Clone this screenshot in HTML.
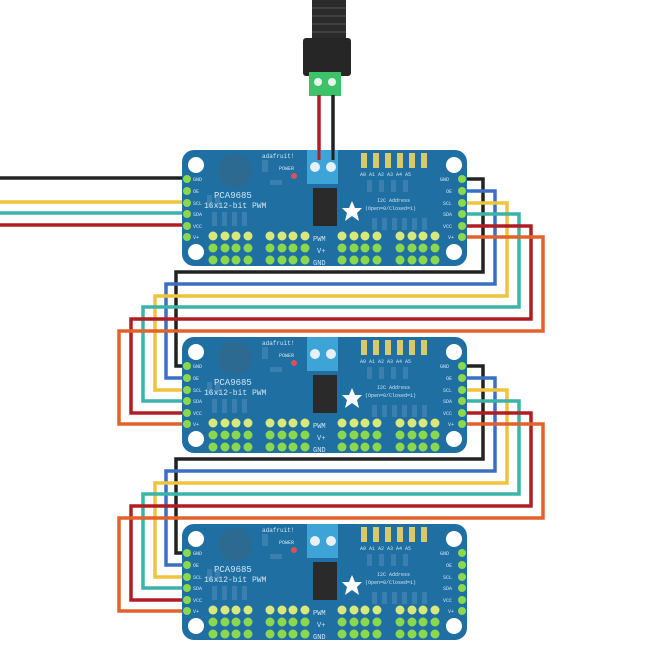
<!DOCTYPE html>
<html><head><meta charset="utf-8"><style>
html,body{margin:0;padding:0;background:#fff;width:658px;height:652px;overflow:hidden}
svg{display:block}
text{font-family:"Liberation Mono",monospace;fill:#cfe6f2}
</style></head><body>
<svg width="658" height="652" viewBox="0 0 658 652" xmlns="http://www.w3.org/2000/svg">
<defs>
<g id="pinrow">
<circle cx="0" cy="0" r="4.5" fill="#d9e87a"/><circle cx="12" cy="0" r="4.5" fill="#d9e87a"/><circle cx="23" cy="0" r="4.5" fill="#d9e87a"/><circle cx="35" cy="0" r="4.5" fill="#d9e87a"/>
<circle cx="0" cy="12" r="4.5" fill="#8bd84e"/><circle cx="12" cy="12" r="4.5" fill="#8bd84e"/><circle cx="23" cy="12" r="4.5" fill="#8bd84e"/><circle cx="35" cy="12" r="4.5" fill="#8bd84e"/>
<circle cx="0" cy="24" r="4.5" fill="#8bd84e"/><circle cx="12" cy="24" r="4.5" fill="#8bd84e"/><circle cx="23" cy="24" r="4.5" fill="#8bd84e"/><circle cx="35" cy="24" r="4.5" fill="#8bd84e"/>
</g>
</defs>

<!-- power jack -->
<path d="M312 0 L346 0 L346 40 L312 40 Z" fill="#2b2b2b"/>
<g stroke="#555" stroke-width="1"><line x1="312" y1="8" x2="346" y2="8"/><line x1="312" y1="16" x2="346" y2="16"/><line x1="312" y1="24" x2="346" y2="24"/><line x1="312" y1="32" x2="346" y2="32"/></g>
<rect x="303" y="38" width="48" height="38" rx="3" fill="#262626"/>
<rect x="309" y="72" width="32" height="24" fill="#3cc36a"/>
<circle cx="318" cy="82" r="4" fill="#e8f5ea"/><circle cx="332" cy="82" r="4" fill="#e8f5ea"/>
<line x1="319" y1="95" x2="319" y2="160" stroke="#b01e24" stroke-width="3.5"/>
<line x1="333" y1="95" x2="333" y2="160" stroke="#222" stroke-width="3.5"/>

<!-- input wires -->
<g fill="none" stroke-width="3.5">
<line x1="0" y1="178" x2="187" y2="178" stroke="#222"/>
<line x1="0" y1="202" x2="187" y2="202" stroke="#f0c43a"/>
<line x1="0" y1="213" x2="187" y2="213" stroke="#3bb3a8"/>
<line x1="0" y1="225" x2="187" y2="225" stroke="#b01e24"/>
</g>

<!-- chain wires board1->2 and 2->3 -->
<g fill="none" stroke-width="3.5" stroke-linejoin="miter">
<path d="M462 179 H483 V272 H176 V366 H187" stroke="#222"/>
<path d="M462 191 H495 V284 H166 V378 H187" stroke="#3a6fc4"/>
<path d="M462 203 H507 V296 H155 V390 H187" stroke="#f0c43a"/>
<path d="M462 214 H519 V307 H143 V401 H187" stroke="#3bb3a8"/>
<path d="M462 226 H531 V319 H131 V413 H187" stroke="#b01e24"/>
<path d="M462 237 H543 V331 H119 V424 H187" stroke="#e2622a"/>

<path d="M462 366 H483 V459 H176 V553 H187" stroke="#222"/>
<path d="M462 378 H495 V471 H166 V565 H187" stroke="#3a6fc4"/>
<path d="M462 390 H507 V483 H155 V577 H187" stroke="#f0c43a"/>
<path d="M462 401 H519 V494 H143 V588 H187" stroke="#3bb3a8"/>
<path d="M462 413 H531 V506 H131 V600 H187" stroke="#b01e24"/>
<path d="M462 424 H543 V518 H119 V611 H187" stroke="#e2622a"/>
</g>

<!-- BOARD 1 -->
<g transform="translate(182,150)">
<rect x="0" y="0" width="285" height="116" rx="12" fill="#1f6fa3"/>
<circle cx="14" cy="15" r="8" fill="#fff"/><circle cx="272" cy="15" r="8" fill="#fff"/><circle cx="14" cy="102" r="8" fill="#fff"/><circle cx="272" cy="102" r="8" fill="#fff"/>
<circle cx="53" cy="21" r="17" fill="#2c6a92"/>
<g fill="#3a7fae"><rect x="25" y="45" width="5" height="12"/><rect x="33" y="45" width="5" height="12"/><rect x="30" y="62" width="5" height="14"/><rect x="40" y="62" width="5" height="14"/><rect x="50" y="62" width="5" height="14"/><rect x="60" y="62" width="5" height="14"/><rect x="80" y="10" width="6" height="12"/><rect x="88" y="30" width="12" height="5"/><rect x="190" y="68" width="5" height="12"/><rect x="200" y="68" width="5" height="12"/><rect x="210" y="68" width="5" height="12"/><rect x="220" y="68" width="5" height="12"/><rect x="230" y="68" width="5" height="12"/><rect x="240" y="68" width="5" height="12"/><rect x="185" y="30" width="5" height="12"/><rect x="197" y="30" width="5" height="12"/><rect x="209" y="30" width="5" height="12"/><rect x="221" y="30" width="5" height="12"/></g>
<rect x="125" y="0" width="31" height="34" fill="#3ea3d6"/>
<circle cx="133" cy="17" r="5" fill="#e6f0f5"/><circle cx="149" cy="17" r="5" fill="#e6f0f5"/>
<rect x="131" y="38" width="24" height="38" fill="#2a2a2a"/>
<polygon points="170,51 173,58 180,58 175,63 177,71 170,66 163,71 165,63 160,58 167,58" fill="#fff"/>
<g fill="#d9c96a"><rect x="179" y="3" width="6" height="15"/><rect x="191" y="3" width="6" height="15"/><rect x="203" y="3" width="6" height="15"/><rect x="215" y="3" width="6" height="15"/><rect x="227" y="3" width="6" height="15"/><rect x="239" y="3" width="6" height="15"/></g>
<circle cx="112" cy="26" r="3" fill="#e05050"/>
<text x="80" y="8" font-size="6">adafruit!</text>
<text x="97" y="20" font-size="5">POWER</text>
<text x="178" y="26" font-size="5">A0 A1 A2 A3 A4 A5</text>
<text x="32" y="48" font-size="9">PCA9685</text>
<text x="22" y="58" font-size="8">16x12-bit PWM</text>
<text x="195" y="52" font-size="5">I2C Address</text>
<text x="183" y="60" font-size="5">(Open=0/Closed=1)</text>
<g font-size="5"><text x="11" y="31">GND</text><text x="11" y="43">OE</text><text x="11" y="55">SCL</text><text x="11" y="66">SDA</text><text x="11" y="78">VCC</text><text x="11" y="89">V+</text>
<text x="258" y="31">GND</text><text x="264" y="43">OE</text><text x="261" y="55">SCL</text><text x="261" y="66">SDA</text><text x="261" y="78">VCC</text><text x="266" y="89">V+</text></g>
<g font-size="7"><text x="131" y="91">PWM</text><text x="135" y="103">V+</text><text x="131" y="115">GND</text></g>
<use href="#pinrow" x="31" y="86"/><use href="#pinrow" x="88" y="86"/><use href="#pinrow" x="160" y="86"/><use href="#pinrow" x="218" y="86"/>
<g fill="#8bd84e"><circle cx="5" cy="29" r="4"/><circle cx="5" cy="41" r="4"/><circle cx="5" cy="53" r="4"/><circle cx="5" cy="64" r="4"/><circle cx="5" cy="76" r="4"/><circle cx="5" cy="87" r="4"/>
<circle cx="280" cy="29" r="4"/><circle cx="280" cy="41" r="4"/><circle cx="280" cy="53" r="4"/><circle cx="280" cy="64" r="4"/><circle cx="280" cy="76" r="4"/><circle cx="280" cy="87" r="4"/></g>
</g>

<!-- BOARD 2 -->
<g transform="translate(182,337)">
<rect x="0" y="0" width="285" height="116" rx="12" fill="#1f6fa3"/>
<circle cx="14" cy="15" r="8" fill="#fff"/><circle cx="272" cy="15" r="8" fill="#fff"/><circle cx="14" cy="102" r="8" fill="#fff"/><circle cx="272" cy="102" r="8" fill="#fff"/>
<circle cx="53" cy="21" r="17" fill="#2c6a92"/>
<g fill="#3a7fae"><rect x="25" y="45" width="5" height="12"/><rect x="33" y="45" width="5" height="12"/><rect x="30" y="62" width="5" height="14"/><rect x="40" y="62" width="5" height="14"/><rect x="50" y="62" width="5" height="14"/><rect x="60" y="62" width="5" height="14"/><rect x="80" y="10" width="6" height="12"/><rect x="88" y="30" width="12" height="5"/><rect x="190" y="68" width="5" height="12"/><rect x="200" y="68" width="5" height="12"/><rect x="210" y="68" width="5" height="12"/><rect x="220" y="68" width="5" height="12"/><rect x="230" y="68" width="5" height="12"/><rect x="240" y="68" width="5" height="12"/><rect x="185" y="30" width="5" height="12"/><rect x="197" y="30" width="5" height="12"/><rect x="209" y="30" width="5" height="12"/><rect x="221" y="30" width="5" height="12"/></g>
<rect x="125" y="0" width="31" height="34" fill="#3ea3d6"/>
<circle cx="133" cy="17" r="5" fill="#e6f0f5"/><circle cx="149" cy="17" r="5" fill="#e6f0f5"/>
<rect x="131" y="38" width="24" height="38" fill="#2a2a2a"/>
<polygon points="170,51 173,58 180,58 175,63 177,71 170,66 163,71 165,63 160,58 167,58" fill="#fff"/>
<g fill="#d9c96a"><rect x="179" y="3" width="6" height="15"/><rect x="191" y="3" width="6" height="15"/><rect x="203" y="3" width="6" height="15"/><rect x="215" y="3" width="6" height="15"/><rect x="227" y="3" width="6" height="15"/><rect x="239" y="3" width="6" height="15"/></g>
<circle cx="112" cy="26" r="3" fill="#e05050"/>
<text x="80" y="8" font-size="6">adafruit!</text>
<text x="97" y="20" font-size="5">POWER</text>
<text x="178" y="26" font-size="5">A0 A1 A2 A3 A4 A5</text>
<text x="32" y="48" font-size="9">PCA9685</text>
<text x="22" y="58" font-size="8">16x12-bit PWM</text>
<text x="195" y="52" font-size="5">I2C Address</text>
<text x="183" y="60" font-size="5">(Open=0/Closed=1)</text>
<g font-size="5"><text x="11" y="31">GND</text><text x="11" y="43">OE</text><text x="11" y="55">SCL</text><text x="11" y="66">SDA</text><text x="11" y="78">VCC</text><text x="11" y="89">V+</text>
<text x="258" y="31">GND</text><text x="264" y="43">OE</text><text x="261" y="55">SCL</text><text x="261" y="66">SDA</text><text x="261" y="78">VCC</text><text x="266" y="89">V+</text></g>
<g font-size="7"><text x="131" y="91">PWM</text><text x="135" y="103">V+</text><text x="131" y="115">GND</text></g>
<use href="#pinrow" x="31" y="86"/><use href="#pinrow" x="88" y="86"/><use href="#pinrow" x="160" y="86"/><use href="#pinrow" x="218" y="86"/>
<g fill="#8bd84e"><circle cx="5" cy="29" r="4"/><circle cx="5" cy="41" r="4"/><circle cx="5" cy="53" r="4"/><circle cx="5" cy="64" r="4"/><circle cx="5" cy="76" r="4"/><circle cx="5" cy="87" r="4"/>
<circle cx="280" cy="29" r="4"/><circle cx="280" cy="41" r="4"/><circle cx="280" cy="53" r="4"/><circle cx="280" cy="64" r="4"/><circle cx="280" cy="76" r="4"/><circle cx="280" cy="87" r="4"/></g>
</g>

<!-- BOARD 3 -->
<g transform="translate(182,524)">
<rect x="0" y="0" width="285" height="116" rx="12" fill="#1f6fa3"/>
<circle cx="14" cy="15" r="8" fill="#fff"/><circle cx="272" cy="15" r="8" fill="#fff"/><circle cx="14" cy="102" r="8" fill="#fff"/><circle cx="272" cy="102" r="8" fill="#fff"/>
<circle cx="53" cy="21" r="17" fill="#2c6a92"/>
<g fill="#3a7fae"><rect x="25" y="45" width="5" height="12"/><rect x="33" y="45" width="5" height="12"/><rect x="30" y="62" width="5" height="14"/><rect x="40" y="62" width="5" height="14"/><rect x="50" y="62" width="5" height="14"/><rect x="60" y="62" width="5" height="14"/><rect x="80" y="10" width="6" height="12"/><rect x="88" y="30" width="12" height="5"/><rect x="190" y="68" width="5" height="12"/><rect x="200" y="68" width="5" height="12"/><rect x="210" y="68" width="5" height="12"/><rect x="220" y="68" width="5" height="12"/><rect x="230" y="68" width="5" height="12"/><rect x="240" y="68" width="5" height="12"/><rect x="185" y="30" width="5" height="12"/><rect x="197" y="30" width="5" height="12"/><rect x="209" y="30" width="5" height="12"/><rect x="221" y="30" width="5" height="12"/></g>
<rect x="125" y="0" width="31" height="34" fill="#3ea3d6"/>
<circle cx="133" cy="17" r="5" fill="#e6f0f5"/><circle cx="149" cy="17" r="5" fill="#e6f0f5"/>
<rect x="131" y="38" width="24" height="38" fill="#2a2a2a"/>
<polygon points="170,51 173,58 180,58 175,63 177,71 170,66 163,71 165,63 160,58 167,58" fill="#fff"/>
<g fill="#d9c96a"><rect x="179" y="3" width="6" height="15"/><rect x="191" y="3" width="6" height="15"/><rect x="203" y="3" width="6" height="15"/><rect x="215" y="3" width="6" height="15"/><rect x="227" y="3" width="6" height="15"/><rect x="239" y="3" width="6" height="15"/></g>
<circle cx="112" cy="26" r="3" fill="#e05050"/>
<text x="80" y="8" font-size="6">adafruit!</text>
<text x="97" y="20" font-size="5">POWER</text>
<text x="178" y="26" font-size="5">A0 A1 A2 A3 A4 A5</text>
<text x="32" y="48" font-size="9">PCA9685</text>
<text x="22" y="58" font-size="8">16x12-bit PWM</text>
<text x="195" y="52" font-size="5">I2C Address</text>
<text x="183" y="60" font-size="5">(Open=0/Closed=1)</text>
<g font-size="5"><text x="11" y="31">GND</text><text x="11" y="43">OE</text><text x="11" y="55">SCL</text><text x="11" y="66">SDA</text><text x="11" y="78">VCC</text><text x="11" y="89">V+</text>
<text x="258" y="31">GND</text><text x="264" y="43">OE</text><text x="261" y="55">SCL</text><text x="261" y="66">SDA</text><text x="261" y="78">VCC</text><text x="266" y="89">V+</text></g>
<g font-size="7"><text x="131" y="91">PWM</text><text x="135" y="103">V+</text><text x="131" y="115">GND</text></g>
<use href="#pinrow" x="31" y="86"/><use href="#pinrow" x="88" y="86"/><use href="#pinrow" x="160" y="86"/><use href="#pinrow" x="218" y="86"/>
<g fill="#8bd84e"><circle cx="5" cy="29" r="4"/><circle cx="5" cy="41" r="4"/><circle cx="5" cy="53" r="4"/><circle cx="5" cy="64" r="4"/><circle cx="5" cy="76" r="4"/><circle cx="5" cy="87" r="4"/>
<circle cx="280" cy="29" r="4"/><circle cx="280" cy="41" r="4"/><circle cx="280" cy="53" r="4"/><circle cx="280" cy="64" r="4"/><circle cx="280" cy="76" r="4"/><circle cx="280" cy="87" r="4"/></g>
</g>

<!-- wires on top of board 1 terminal -->
<line x1="319" y1="150" x2="319" y2="160" stroke="#b01e24" stroke-width="3"/>
<line x1="333" y1="150" x2="333" y2="160" stroke="#222" stroke-width="3"/>
</svg>
</body></html>
